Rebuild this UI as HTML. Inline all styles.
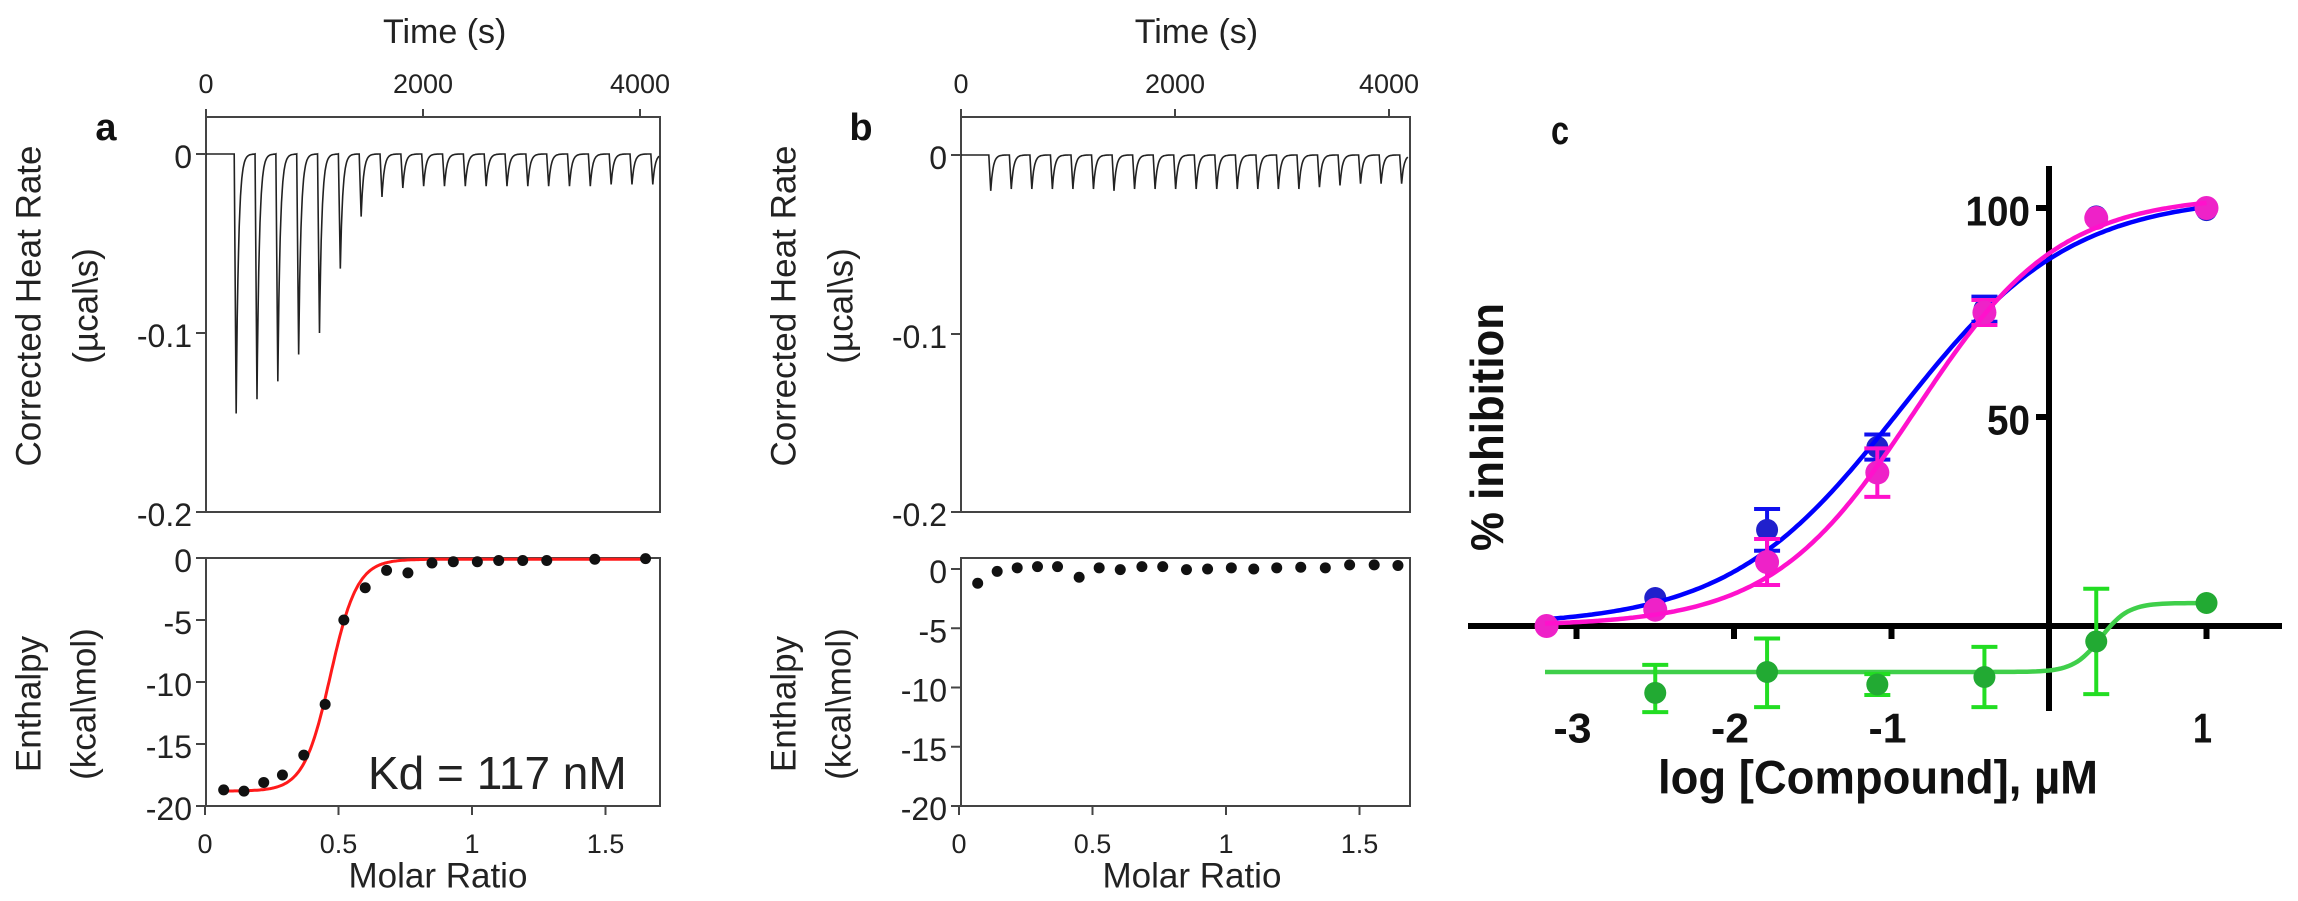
<!DOCTYPE html>
<html><head><meta charset="utf-8"><style>
html,body{margin:0;padding:0;background:#fff;}
svg{display:block;}
.s{font-family:"Liberation Sans",Arial,sans-serif;fill:#222;}
.c{font-family:"Liberation Sans",Arial,sans-serif;font-weight:bold;fill:#111;}
</style></head><body>
<svg id="fig" width="2298" height="901" viewBox="0 0 2298 901" xmlns="http://www.w3.org/2000/svg"></svg>
<script>
// ---------- Panel a data ----------
const injTimes = [260,452,644,836,1028,1220,1412,1604,1796,1988,2180,2372,2564,2756,2948,3140,3332,3524,3716,3908,4100];
const peaksA = [0.145,0.137,0.127,0.112,0.100,0.064,0.035,0.024,0.019,0.018,0.018,0.018,0.018,0.018,0.018,0.018,0.018,0.018,0.017,0.017,0.017];
const peaksB = [0.020,0.019,0.019,0.019,0.019,0.019,0.020,0.019,0.019,0.019,0.019,0.019,0.019,0.019,0.019,0.019,0.018,0.017,0.016,0.016,0.016];
const ratioA = [0.07,0.146,0.22,0.29,0.37,0.45,0.52,0.60,0.68,0.76,0.85,0.93,1.02,1.10,1.19,1.28,1.46,1.65];
const enthA = [-18.7,-18.8,-18.1,-17.5,-15.9,-11.8,-5.0,-2.4,-1.0,-1.2,-0.4,-0.3,-0.3,-0.2,-0.2,-0.2,-0.1,-0.05];
const fitA = {bottom:-18.8, top:-0.1, mid:0.47, width:0.05};
const ratioB = [0.07,0.143,0.218,0.294,0.369,0.45,0.525,0.604,0.685,0.763,0.852,0.931,1.02,1.104,1.19,1.28,1.372,1.463,1.555,1.644];
const enthB = [-1.2,-0.2,0.1,0.2,0.2,-0.7,0.1,-0.05,0.2,0.2,-0.05,0,0.1,0,0.1,0.15,0.1,0.35,0.35,0.3];
// ---------- Panel c data ----------
const logConc = [-3.19,-2.5,-1.79,-1.09,-0.41,0.30,1.0];
const magentaY = [0,3.9,15.3,36.7,75,97.6,100];
const magentaErr = [0,0,5.5,5.8,3,0,0];
const blueY = [0,6.7,23,42.8,75.8,98,99.5];
const blueErr = [0,0,5,3,3,0,0];
const greenX = [-2.5,-1.79,-1.09,-0.41,0.30,1.0];
const greenY = [-16,-11,-14,-12.2,-3.7,5.5];
const greenErrUp = [6.7,8,2.5,7.2,12.6,0];
const greenErrDn = [4.6,8.4,2.5,7.2,12.6,0];
const fitMagenta = {bottom:0, top:103, logIC:-0.85, hill:0.95};
const fitBlue = {bottom:0, top:103, logIC:-0.95, hill:0.8};
const fitGreen = {bottom:-11, top:5.5, logIC:0.33, hill:5};
const cXTicks = [-3,-2,-1,1];
const cYTicks = [50,100];

const svg = document.getElementById('fig');
const NS = 'http://www.w3.org/2000/svg';
function mk(tag, attrs, parent){const e=document.createElementNS(NS,tag);for(const k in attrs)e.setAttribute(k,attrs[k]);(parent||svg).appendChild(e);return e;}
function txt(s, x, y, cls, size, anchor, parent){const t=mk('text',{x:x,y:y,'class':cls,'font-size':size,'text-anchor':anchor||'middle','dominant-baseline':'central'},parent);t.textContent=s;return t;}

// ---------- ITC panels ----------
function itcPanel(opts){
  const g = mk('g',{});
  
  
  const tx = t => opts.left + t*opts.tScale;
  const ty = v => opts.zero + (-v)*1790;
  mk('rect',{x:opts.left,y:117,width:opts.right-opts.left,height:512-117,fill:'none',stroke:'#444','stroke-width':2},g);
  let d = 'M'+tx(0)+','+ty(0)+' L'+tx(injTimes[0]-5)+','+ty(0);
  const peaks = opts.peaks;
  for(let i=0;i<injTimes.length;i++){
    const t0 = injTimes[i];
    d += ' L'+tx(t0)+','+ty(0);
    d += ' L'+tx(t0+18)+','+ty(-peaks[i]);
    const next = i+1<injTimes.length ? injTimes[i+1] : 4180;
    for(let t=t0+22;t<next;t+=6){
      const v = -peaks[i]*Math.exp(-(t-t0-18)/22);
      d += ' L'+tx(t).toFixed(1)+','+ty(v).toFixed(1);
    }
  }
  const trace = mk('path',{d:d,fill:'none',stroke:'#222','stroke-width':1.6},g);
  
  
  [0,2000,4000].forEach(t=>{
    mk('line',{x1:tx(t),x2:tx(t),y1:117,y2:109,stroke:'#444','stroke-width':2},g);
    txt(String(t), tx(t), 84, 's', 27, 'middle', g);
  });
  txt('Time (s)', opts.left + 2200*opts.tScale, 32, 's', 34, 'middle', g);
  [[0,'0'],[-0.1,'-0.1'],[-0.2,'-0.2']].forEach(([v,l])=>{
    const y = v===-0.2?512:ty(v);
    mk('line',{x1:opts.left-10,x2:opts.left,y1:y,y2:y,stroke:'#444','stroke-width':2},g);
    txt(l, opts.left-14, y+3, 's', 32, 'end', g);
  });
  const tt = mk('text',{'class':'s','font-size':35,'text-anchor':'middle',transform:'translate('+(opts.left-177)+',306) rotate(-90)','dominant-baseline':'central'},g);
  tt.textContent='Corrected Heat Rate';
  const tt2 = mk('text',{'class':'s','font-size':35,'text-anchor':'middle',transform:'translate('+(opts.left-120)+',306) rotate(-90)','dominant-baseline':'central'},g);
  tt2.textContent='(\u00b5cal\\s)';
  txt(opts.letter, opts.left-100, 128, 'c', 38, 'middle', g);

  const bx = r => opts.bLeft + r*267;
  const by = v => opts.bZero + (-v)*opts.bScale;
  mk('rect',{x:opts.left,y:558,width:opts.right-opts.left,height:806-558,fill:'none',stroke:'#444','stroke-width':2},g);
  [0,-5,-10,-15,-20].forEach(v=>{
    const y = by(v);
    mk('line',{x1:opts.left-10,x2:opts.left,y1:y,y2:y,stroke:'#444','stroke-width':2},g);
    txt(String(v), opts.left-14, y+3, 's', 32, 'end', g);
  });
  [[0,'0'],[0.5,'0.5'],[1,'1'],[1.5,'1.5']].forEach(([r,l])=>{
    mk('line',{x1:bx(r),x2:bx(r),y1:806,y2:815,stroke:'#444','stroke-width':2},g);
    txt(l, bx(r), 844, 's', 27, 'middle', g);
  });
  txt('Molar Ratio', bx(0.85)+6, 876, 's', 35, 'middle', g);
  const e1 = mk('text',{'class':'s','font-size':35,'text-anchor':'middle',transform:'translate('+(opts.left-177)+',704) rotate(-90)','dominant-baseline':'central'},g);
  e1.textContent='Enthalpy';
  const e2 = mk('text',{'class':'s','font-size':35,'text-anchor':'middle',transform:'translate('+(opts.left-122)+',704) rotate(-90)','dominant-baseline':'central'},g);
  e2.textContent='(kcal\\mol)';
  if(opts.fit){
    let fd='';
    for(let r=0.07;r<=1.66;r+=0.005){
      const v = opts.fit.bottom + (opts.fit.top-opts.fit.bottom)/(1+Math.exp(-(r-opts.fit.mid)/opts.fit.width));
      fd += (fd?' L':'M')+bx(r).toFixed(1)+','+by(v).toFixed(1);
    }
    const fp = mk('path',{d:fd,fill:'none',stroke:'#ff1a1a','stroke-width':3},g);
    
    
  }
  opts.ratios.forEach((r,i)=>{
    const c = mk('circle',{cx:bx(r),cy:by(opts.enth[i]),r:5.5,fill:'#111'},g);
    
    
  });
  if(opts.kd){
    const k = txt(opts.kd, 368, 773, 's', 46, 'start', g);
    
    
  }
}
itcPanel({name:'panel-a',letter:'a',left:206,right:660,tScale:0.1085,zero:154,peaks:peaksA,bLeft:205,bZero:558,bScale:12.4,ratios:ratioA,enth:enthA,fit:fitA,kd:'Kd = 117 nM'});
itcPanel({name:'panel-b',letter:'b',left:961,right:1410,tScale:0.107,zero:155,peaks:peaksB,bLeft:959,bZero:569,bScale:11.85,ratios:ratioB,enth:enthB,fit:null,kd:null});

// ---------- Panel c ----------
const gc = mk('g',{});


const cx = v => 2049 + v*157.5;
const cy = v => 626 - v*4.18;
mk('line',{x1:1468,x2:2282,y1:cy(0),y2:cy(0),stroke:'#000','stroke-width':6},gc);
mk('line',{x1:2049,x2:2049,y1:166,y2:711,stroke:'#000','stroke-width':6},gc);
cXTicks.forEach(v=>{
  mk('line',{x1:cx(v),x2:cx(v),y1:cy(0),y2:cy(0)+13,stroke:'#000','stroke-width':6},gc);
  const s = String(v);
  const t = txt(s, cx(v)-4, 728, 'c', 42, 'middle', gc);
  t.setAttribute('textLength', s.length*19);
  t.setAttribute('lengthAdjust', 'spacingAndGlyphs');
});
cYTicks.forEach(v=>{
  mk('line',{x1:2036,x2:2049,y1:cy(v),y2:cy(v),stroke:'#000','stroke-width':6},gc);
  const s = String(v);
  const t = txt(s, 2030, cy(v)+3, 'c', 42, 'end', gc);
  t.setAttribute('textLength', s.length*21.5);
  t.setAttribute('lengthAdjust', 'spacingAndGlyphs');
});
const cl = txt('c', 1560, 131, 'c', 40, 'middle', gc);
cl.setAttribute('textLength', 18);
cl.setAttribute('lengthAdjust', 'spacingAndGlyphs');
const xt = txt('log [Compound], \u00b5M', 1878, 777, 'c', 47, 'middle', gc);
xt.setAttribute('textLength', 440);
xt.setAttribute('lengthAdjust', 'spacingAndGlyphs');


const yt = mk('text',{'class':'c','font-size':46,'text-anchor':'middle',transform:'translate(1487,427) rotate(-90)','dominant-baseline':'central',textLength:248,lengthAdjust:'spacingAndGlyphs'},gc);
yt.textContent='% inhibition';



function curve(fit, color, name){
  let d='';
  for(let x=-3.2;x<=1.001;x+=0.02){
    const y = fit.bottom + (fit.top-fit.bottom)/(1+Math.pow(10,(fit.logIC-x)*fit.hill));
    d += (d?' L':'M')+cx(x).toFixed(1)+','+cy(y).toFixed(1);
  }
  const p = mk('path',{d:d,fill:'none',stroke:color,'stroke-width':4.5},gc);
  
  
}
function errbar(x,y,up,dn,color){
  if(!up && !dn) return;
  mk('line',{x1:cx(x),x2:cx(x),y1:cy(y+up),y2:cy(y-dn),stroke:color,'stroke-width':4},gc);
  mk('line',{x1:cx(x)-13,x2:cx(x)+13,y1:cy(y+up),y2:cy(y+up),stroke:color,'stroke-width':4},gc);
  mk('line',{x1:cx(x)-13,x2:cx(x)+13,y1:cy(y-dn),y2:cy(y-dn),stroke:color,'stroke-width':4},gc);
}
curve(fitGreen,'#3fcf4a','green-fit-curve');
greenX.forEach((x,i)=>{
  errbar(x,greenY[i],greenErrUp[i],greenErrDn[i],'#22dd22');
  const c = mk('circle',{cx:cx(x),cy:cy(greenY[i]),r:11,fill:'#22aa33'},gc);
  
  
});
logConc.forEach((x,i)=>{
  errbar(x,blueY[i],blueErr[i],blueErr[i],'#1010ee');
  const c = mk('circle',{cx:cx(x),cy:cy(blueY[i]),r:11,fill:'#2020cc'},gc);
  
  
});
curve(fitBlue,'#0000ff','blue-fit-curve');
logConc.forEach((x,i)=>{
  errbar(x,magentaY[i],magentaErr[i],magentaErr[i],'#ff11cc');
  const c = mk('circle',{cx:cx(x),cy:cy(magentaY[i]),r:12,fill:'#ee22c8'},gc);
  
  
});
curve(fitMagenta,'#ff11cc','magenta-fit-curve');
</script>
</body></html>
